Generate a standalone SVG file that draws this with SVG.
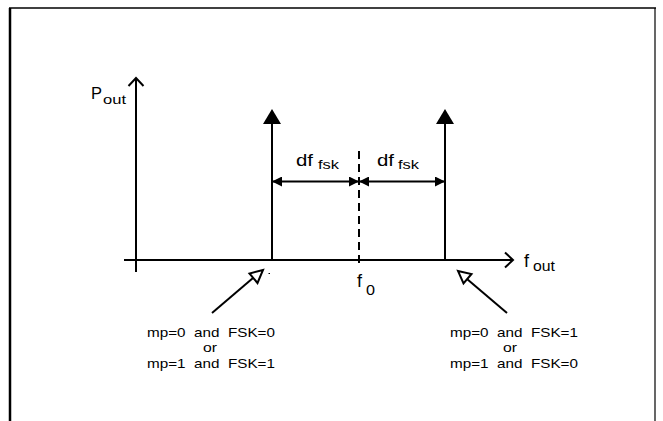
<svg xmlns="http://www.w3.org/2000/svg" width="663" height="421" viewBox="0 0 663 421">
<style>
  .ln{stroke:#000;stroke-width:2;fill:none}
  .t{font-family:"Liberation Sans",Arial,sans-serif;fill:#000}
</style>
<defs>
  <marker id="spike" markerUnits="userSpaceOnUse" viewBox="0 0 15 18" refX="0" refY="9" markerWidth="15" markerHeight="18" orient="auto"><path d="M0,0 L15,9 L0,18 z" fill="#000"/></marker>
  <marker id="dim" markerUnits="userSpaceOnUse" viewBox="0 0 10 10" refX="9" refY="5" markerWidth="10" markerHeight="10" orient="auto-start-reverse"><path d="M0,0 L10,5 L0,10 z" fill="#000"/></marker>
  <marker id="open" markerUnits="userSpaceOnUse" viewBox="-1 -1 11 17" refX="8" refY="7.5" markerWidth="11" markerHeight="17" orient="auto" overflow="visible"><path d="M0,0 L8,7.5 L0,15" fill="none" stroke="#000" stroke-width="2"/></marker>
</defs>
<rect width="663" height="421" fill="#fff"/>
<g id="frame">
  <line x1="9" y1="8" x2="656" y2="8" stroke="#000" stroke-width="1.5"/>
  <line x1="10" y1="8" x2="10" y2="421" stroke="#000" stroke-width="2.5"/>
  <line x1="655" y1="8" x2="655" y2="421" stroke="#000" stroke-width="1.2"/>
</g>
<g id="y-axis">
  <line class="ln" x1="136" y1="272" x2="136" y2="78" marker-end="url(#open)"/>
  <text class="t" x="91" y="99" font-size="16" textLength="11" lengthAdjust="spacingAndGlyphs">P</text>
  <text class="t" x="103" y="104" font-size="13.5" textLength="23" lengthAdjust="spacingAndGlyphs">out</text>
</g>
<g id="x-axis">
  <line class="ln" x1="124" y1="260" x2="513" y2="260" marker-end="url(#open)"/>
  <text class="t" x="524" y="267" font-size="18">f</text>
  <text class="t" x="533" y="271" font-size="14" textLength="22" lengthAdjust="spacingAndGlyphs">out</text>
</g>
<g id="spike-left">
  <line class="ln" x1="272" y1="260" x2="272" y2="124" marker-end="url(#spike)"/>
</g>
<g id="spike-right">
  <line class="ln" x1="445" y1="260" x2="445" y2="124" marker-end="url(#spike)"/>
</g>
<g id="f0">
  <line class="ln" x1="359" y1="151" x2="359" y2="266" stroke-dasharray="8 5"/>
  <text class="t" x="357" y="287" font-size="18">f</text>
  <text class="t" x="366" y="295" font-size="15" textLength="9" lengthAdjust="spacingAndGlyphs">0</text>
</g>
<g id="df-left">
  <text class="t" x="296" y="166" font-size="16" textLength="17" lengthAdjust="spacingAndGlyphs">df</text>
  <text class="t" x="318" y="169" font-size="12.5" textLength="21" lengthAdjust="spacingAndGlyphs">fsk</text>
</g>
<g id="df-right">
  <text class="t" x="377" y="166" font-size="16" textLength="17" lengthAdjust="spacingAndGlyphs">df</text>
  <text class="t" x="398" y="169" font-size="12.5" textLength="21" lengthAdjust="spacingAndGlyphs">fsk</text>
</g>
<g id="label-left">
  <text class="t" x="211" y="337" font-size="13" text-anchor="middle" textLength="128" lengthAdjust="spacingAndGlyphs" xml:space="preserve">mp=0  and  FSK=0</text>
  <text class="t" x="210" y="352" font-size="13" text-anchor="middle" textLength="14" lengthAdjust="spacingAndGlyphs">or</text>
  <text class="t" x="211" y="368" font-size="13" text-anchor="middle" textLength="128" lengthAdjust="spacingAndGlyphs" xml:space="preserve">mp=1  and  FSK=1</text>
</g>
<g id="label-right">
  <text class="t" x="514" y="337" font-size="13" text-anchor="middle" textLength="128" lengthAdjust="spacingAndGlyphs" xml:space="preserve">mp=0  and  FSK=1</text>
  <text class="t" x="510" y="352" font-size="13" text-anchor="middle" textLength="14" lengthAdjust="spacingAndGlyphs">or</text>
  <text class="t" x="514" y="368" font-size="13" text-anchor="middle" textLength="128" lengthAdjust="spacingAndGlyphs" xml:space="preserve">mp=1  and  FSK=0</text>
</g>
<g id="connectors">
  <line class="ln" x1="273" y1="181.5" x2="358" y2="181.5" marker-start="url(#dim)" marker-end="url(#dim)"/>
  <line class="ln" x1="360" y1="181.5" x2="444" y2="181.5" marker-start="url(#dim)" marker-end="url(#dim)"/>
  <line class="ln" x1="212" y1="313" x2="253" y2="278"/>
  <polygon points="263,270 249.5,273.5 257.5,283" fill="#fff" stroke="#000" stroke-width="2" stroke-linejoin="miter"/>
  <rect x="268.5" y="273" width="1.5" height="1" fill="#000"/>
  <line class="ln" x1="507" y1="313" x2="467" y2="279"/>
  <polygon points="458,271 471.5,274 463.5,283.5" fill="#fff" stroke="#000" stroke-width="2" stroke-linejoin="miter"/>
</g>
</svg>
